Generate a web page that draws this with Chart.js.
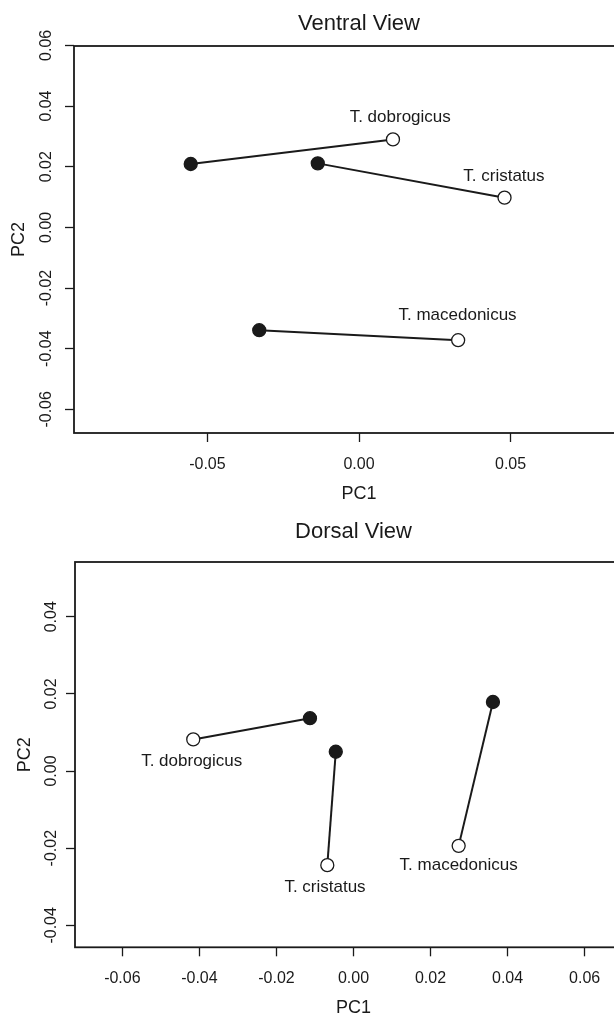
<!DOCTYPE html>
<html>
<head>
<meta charset="utf-8">
<script src="https://cdn.jsdelivr.net/npm/chart.js@4"></script>
<style>
  html, body { margin: 0; padding: 0; background: #fff; }
  .wrap { width: 614px; height: 1020px; overflow: hidden; position: relative; }
  canvas { display: block; }
</style>
</head>
<body>
<div class="wrap">
  <canvas id="ventral" width="718" height="510"></canvas>
  <canvas id="dorsal" width="707" height="510"></canvas>
</div>
<script>
// Species, in the same order in every array below
const species = ['T. dobrogicus', 'T. cristatus', 'T. macedonicus'];

// Ventral view: filled point (start) and open point (end) per species
const ventralFilledX = [-0.0555, -0.0136, -0.0329];
const ventralFilledY = [0.0209, 0.0211, -0.0339];
const ventralOpenX = [0.0112, 0.0480, 0.0327];
const ventralOpenY = [0.0290, 0.0098, -0.0372];
const ventralLabelX = [0.0136, 0.0478, 0.0325];
const ventralLabelY = [0.0364, 0.0169, -0.0289];
const ventralXTicks = [-0.05, 0, 0.05];
const ventralYTicks = [-0.06, -0.04, -0.02, 0, 0.02, 0.04, 0.06];

// Dorsal view
const dorsalFilledX = [-0.0113, -0.0046, 0.0362];
const dorsalFilledY = [0.0137, 0.0050, 0.0179];
const dorsalOpenX = [-0.0416, -0.0068, 0.0273];
const dorsalOpenY = [0.0082, -0.0244, -0.0194];
const dorsalLabelX = [-0.0420, -0.0074, 0.0273];
const dorsalLabelY = [0.0024, -0.0301, -0.0244];
const dorsalXTicks = [-0.06, -0.04, -0.02, 0, 0.02, 0.04, 0.06];
const dorsalYTicks = [-0.04, -0.02, 0, 0.02, 0.04];

const INK = '#1a1a1a';
const FONT = "'Liberation Sans', Arial, Helvetica, sans-serif";

Chart.defaults.font.family = FONT;
Chart.defaults.color = INK;

// plot box, like R's bty="o"
const boxPlugin = {
    id: 'box',
    afterDraw(chart) {
        const a = chart.chartArea;
        const ctx = chart.ctx;
        ctx.save();
        ctx.strokeStyle = INK;
        ctx.lineWidth = 1.8;
        ctx.strokeRect(a.left, a.top, a.right - a.left, a.bottom - a.top);
        ctx.restore();
    }
};

// main title centred over the plot region (not the canvas)
const plotTitlePlugin = {
    id: 'plotTitle',
    afterDraw(chart, args, opts) {
        const a = chart.chartArea;
        const ctx = chart.ctx;
        ctx.save();
        ctx.fillStyle = INK;
        ctx.font = '22px ' + FONT;
        ctx.textAlign = 'center';
        ctx.textBaseline = 'middle';
        ctx.fillText(opts.text, (a.left + a.right) / 2, opts.y);
        ctx.restore();
    }
};

// species names placed in data coordinates, like text(x, y, labels)
const labelPlugin = {
    id: 'speciesLabels',
    afterDatasetsDraw(chart, args, opts) {
        const ctx = chart.ctx;
        const xs = chart.scales.x;
        const ys = chart.scales.y;
        ctx.save();
        ctx.fillStyle = INK;
        ctx.font = '17px ' + FONT;
        ctx.textAlign = 'center';
        ctx.textBaseline = 'middle';
        opts.names.forEach((name, i) => {
            ctx.fillText(name, xs.getPixelForValue(opts.x[i]), ys.getPixelForValue(opts.y[i]));
        });
        ctx.restore();
    }
};

function makeDatasets(fx, fy, ox, oy) {
    return species.map((name, i) => ({
        label: name,
        data: [{ x: fx[i], y: fy[i] }, { x: ox[i], y: oy[i] }],
        showLine: true,
        borderColor: INK,
        borderWidth: 2,
        pointBackgroundColor: [INK, '#ffffff'],
        pointBorderColor: INK,
        pointBorderWidth: 1.3,
        pointRadius: 6.5
    }));
}

function makeChart(canvasId, cfg) {
    const fmt = v => Number(v).toFixed(2);
    return new Chart(document.getElementById(canvasId), {
        type: 'scatter',
        data: { datasets: makeDatasets(cfg.fx, cfg.fy, cfg.ox, cfg.oy) },
        options: {
            responsive: false,
            animation: false,
            layout: { padding: { left: 0, right: cfg.padRight, top: cfg.padTop, bottom: 0 } },
            plugins: {
                legend: { display: false },
                tooltip: { enabled: false },
                title: { display: false },
                plotTitle: { text: cfg.title, y: cfg.titleY },
                speciesLabels: { names: species, x: cfg.lx, y: cfg.ly }
            },
            scales: {
                x: {
                    type: 'linear',
                    min: cfg.xRange[0],
                    max: cfg.xRange[1],
                    afterBuildTicks: s => { s.ticks = cfg.xTicks.map(v => ({ value: v })); },
                    afterFit: s => { s.height = cfg.xHeight; },
                    border: { display: false },
                    grid: {
                        drawOnChartArea: false,
                        drawTicks: true,
                        tickLength: 9,
                        tickColor: INK,
                        tickWidth: 1.3
                    },
                    ticks: { font: { size: 16 }, color: INK, padding: 13, maxRotation: 0, callback: fmt },
                    title: {
                        display: true,
                        text: 'PC1',
                        color: INK,
                        font: { size: 18 },
                        padding: { top: 0, bottom: cfg.xTitlePad }
                    }
                },
                y: {
                    type: 'linear',
                    min: cfg.yRange[0],
                    max: cfg.yRange[1],
                    afterBuildTicks: s => { s.ticks = cfg.yTicks.map(v => ({ value: v })); },
                    afterFit: s => { s.width = cfg.yWidth; },
                    border: { display: false },
                    grid: {
                        drawOnChartArea: false,
                        drawTicks: true,
                        tickLength: 9,
                        tickColor: INK,
                        tickWidth: 1.3
                    },
                    ticks: {
                        font: { size: 16 },
                        color: INK,
                        padding: cfg.yTickPad,
                        minRotation: 90,
                        maxRotation: 90,
                        crossAlign: 'center',
                        callback: fmt
                    },
                    title: {
                        display: true,
                        text: 'PC2',
                        color: INK,
                        font: { size: 18 },
                        padding: { top: cfg.yTitlePad, bottom: 0 }
                    }
                }
            }
        },
        plugins: [boxPlugin, plotTitlePlugin, labelPlugin]
    });
}

// canvases are wider than the page: the plot boxes run past the right edge
makeChart('ventral', {
    title: 'Ventral View',
    titleY: 24,
    fx: ventralFilledX, fy: ventralFilledY, ox: ventralOpenX, oy: ventralOpenY,
    lx: ventralLabelX, ly: ventralLabelY,
    xTicks: ventralXTicks, yTicks: ventralYTicks,
    xRange: [-0.094, 0.094],
    yRange: [-0.0678, 0.0598],
    padRight: 74,
    padTop: 46,
    xHeight: 77,
    xTitlePad: 5.2,
    yWidth: 74,
    yTickPad: 0,
    yTitlePad: 8.7
});

makeChart('dorsal', {
    title: 'Dorsal View',
    titleY: 22,
    fx: dorsalFilledX, fy: dorsalFilledY, ox: dorsalOpenX, oy: dorsalOpenY,
    lx: dorsalLabelX, ly: dorsalLabelY,
    xTicks: dorsalXTicks, yTicks: dorsalYTicks,
    xRange: [-0.0723, 0.0723],
    yRange: [-0.0457, 0.0542],
    padRight: 75,
    padTop: 52,
    xHeight: 72.7,
    xTitlePad: 1.2,
    yWidth: 75,
    yTickPad: -4,
    yTitlePad: 14.2
});
</script>
</body>
</html>
